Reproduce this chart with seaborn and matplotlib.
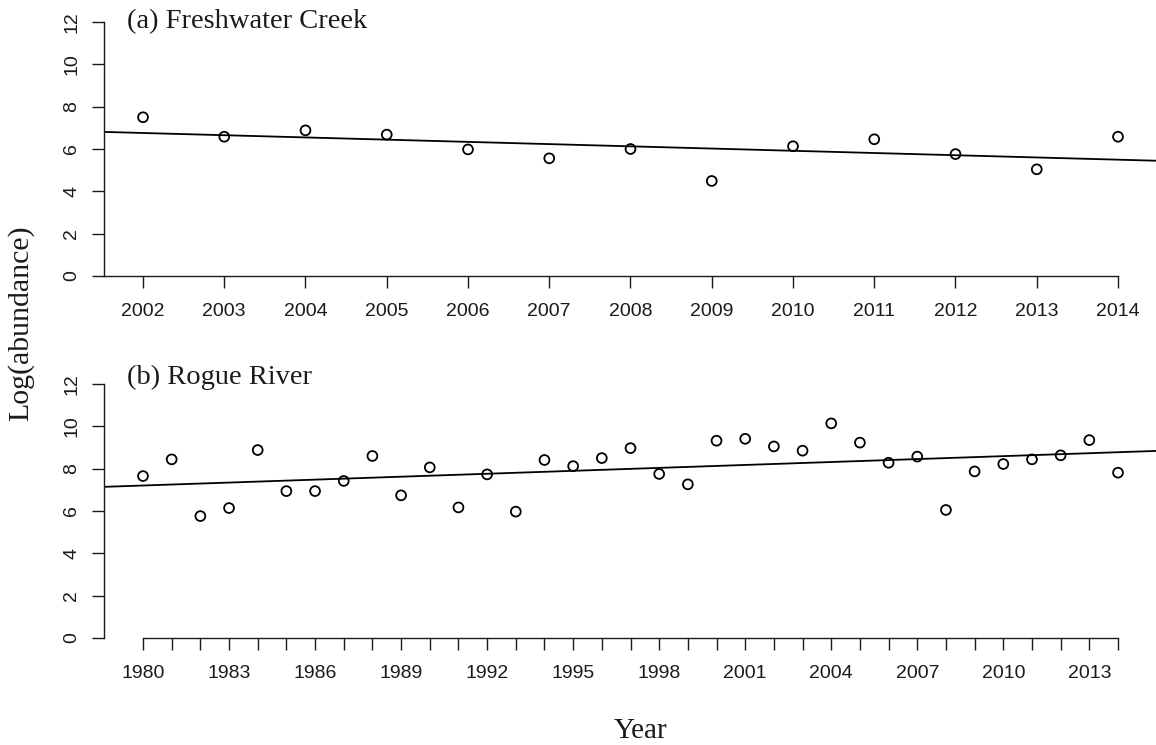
import numpy as np
import pandas as pd
import matplotlib
matplotlib.use("Agg")
import matplotlib.pyplot as plt
import seaborn as sns

# Freshwater Creek, log abundance by year
fw_years = list(range(2002, 2015))
fw_logabund = [7.50, 6.58, 6.88, 6.68, 5.98, 5.56, 6.00, 4.49, 6.13, 6.46, 5.76, 5.04, 6.58]

# Rogue River, log abundance by year
rr_years = list(range(1980, 2015))
rr_logabund = [7.65, 8.44, 5.76, 6.14, 8.88, 6.94, 6.94, 7.42, 8.60, 6.74,
               8.06, 6.17, 7.73, 5.97, 8.41, 8.12, 8.50, 8.97, 7.75, 7.26,
               9.32, 9.41, 9.05, 8.85, 10.14, 9.23, 8.28, 8.57, 6.05, 7.87,
               8.22, 8.44, 8.63, 9.35, 7.81]

panel_titles = ["(a) Freshwater Creek", "(b) Rogue River"]
y_ticks = [0, 2, 4, 6, 8, 10, 12]
fw_xticklabels = [str(y) for y in fw_years]
rr_xticklabels = [str(y) if (y - 1980) % 3 == 0 else "" for y in rr_years]
y_label = "Log(abundance)"
x_label = "Year"

sns.set_style("ticks")
plt.rcParams["font.family"] = ["Liberation Sans", "DejaVu Sans"]

W, H = 1156, 745
fig = plt.figure(figsize=(W / 100, H / 100), dpi=100)

def px_axes(left, right, top, bottom):
    return fig.add_axes([left / W, 1 - bottom / H, (right - left) / W, (bottom - top) / H])

ax_top = px_axes(104, 1157, 22, 276)
ax_bot = px_axes(104, 1157, 384, 638)

panels = [
    (ax_top, fw_years, fw_logabund, fw_xticklabels, panel_titles[0], 11.72),
    (ax_bot, rr_years, rr_logabund, rr_xticklabels, panel_titles[1], 11.98),
]

serif = ["Liberation Serif", "DejaVu Serif"]
ink = "#1a1a1a"

for ax, years, vals, xlabels, title, title_y in panels:
    df = pd.DataFrame({"year": years, "logabund": vals})
    span = max(years) - min(years)
    xlim = (min(years) - 0.04 * span, max(years) + 0.04 * span)
    ax.set_xlim(*xlim)
    ax.set_ylim(0, 12)
    sns.regplot(
        data=df, x="year", y="logabund", ax=ax, ci=None, truncate=False,
        color="black",
        scatter_kws=dict(s=50, facecolors="none", edgecolors="black",
                         linewidths=1.3, alpha=1, zorder=3, clip_on=False),
        line_kws=dict(color="black", lw=1.3),
    )
    ax.set_xlim(*xlim)
    ax.set_ylim(0, 12)
    ax.set_xlabel("")
    ax.set_ylabel("")

    for side in ("top", "right"):
        ax.spines[side].set_visible(False)
    for side in ("left", "bottom"):
        ax.spines[side].set_linewidth(1.0)
        ax.spines[side].set_color(ink)
    ax.spines["left"].set_bounds(0, 12)
    if min(years) == 1980:
        ax.spines["bottom"].set_bounds(min(years), max(years))
    else:
        ax.spines["bottom"].set_bounds(xlim[0], max(years))

    ax.set_yticks(y_ticks)
    ax.set_yticklabels([str(t) for t in y_ticks], rotation=90, va="center")
    ax.set_xticks(years)
    ax.set_xticklabels(xlabels)
    ax.tick_params(axis="both", direction="out", length=8.6, width=1.0,
                   color=ink, labelsize=14, labelcolor=ink)
    ax.tick_params(axis="y", pad=8.5)
    ax.tick_params(axis="x", pad=11)

    ax.text(0.022, title_y, title, transform=ax.get_yaxis_transform(),
            ha="left", va="baseline", fontsize=20.5, family=serif, color=ink)

fig.text(21 / W, 1 - 323 / H, y_label, rotation=90, ha="center", va="center",
         fontsize=21.5, family=serif, color=ink)
fig.text(641 / W, 1 - 738 / H, x_label, ha="center", va="baseline",
         fontsize=21, family=serif, color=ink)

fig.savefig("out.png", dpi=100, facecolor="white")
